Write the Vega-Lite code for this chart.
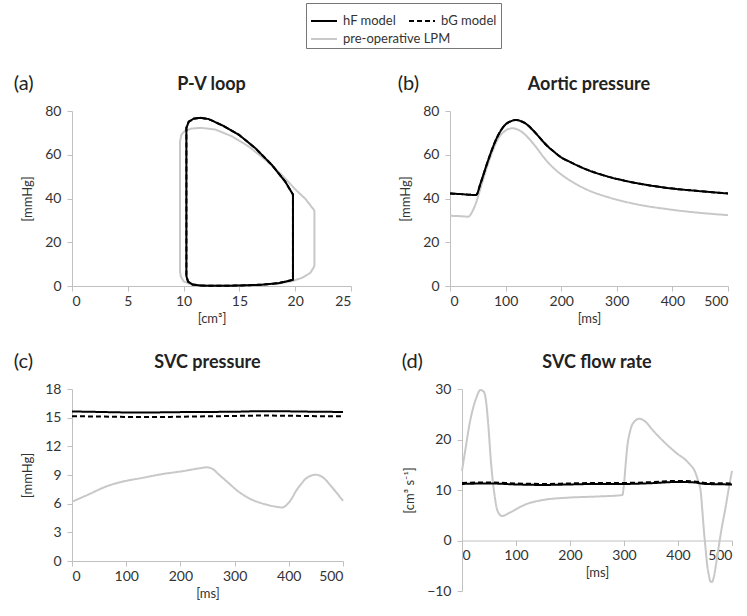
{
  "$schema": "https://vega.github.io/schema/vega-lite/v6.json",
  "padding": {"left": 13, "top": 2, "right": 5, "bottom": 2},
  "background": "white",
  "config": {
    "font": "Lato",
    "view": {"stroke": null},
    "axis": {"grid": false, "domainColor": "#c0c0c0", "tickColor": "#c0c0c0", "tickSize": 5, "labelColor": "#333", "labelFontSize": 14, "titleFontSize": 13, "titleFontWeight": "normal", "titleColor": "#333"},
    "axisX": {"labelPadding": 3, "titlePadding": 4},
    "axisY": {"labelPadding": 6, "titlePadding": 10},
    "title": {"fontSize": 18, "fontWeight": "bold", "color": "#222", "offset": 10},
    "line": {"strokeWidth": 2},
    "legend": {"orient": "none", "symbolType": "stroke", "symbolSize": 676, "symbolStrokeWidth": 2, "labelFontSize": 13, "labelColor": "#333", "labelOffset": 5}
  },
  "datasets": {
    "pv": [
      {"s": "pre-operative LPM", "i": 1, "v": 9.68, "p": 6.8},
      {"s": "pre-operative LPM", "i": 2, "v": 9.68, "p": 66.1},
      {"s": "pre-operative LPM", "i": 3, "v": 9.8, "p": 69.2},
      {"s": "pre-operative LPM", "i": 4, "v": 10.16, "p": 71.1},
      {"s": "pre-operative LPM", "i": 5, "v": 10.75, "p": 72.0},
      {"s": "pre-operative LPM", "i": 6, "v": 11.6, "p": 72.3},
      {"s": "pre-operative LPM", "i": 7, "v": 12.85, "p": 71.5},
      {"s": "pre-operative LPM", "i": 8, "v": 14.34, "p": 68.4},
      {"s": "pre-operative LPM", "i": 9, "v": 15.83, "p": 63.8},
      {"s": "pre-operative LPM", "i": 10, "v": 17.33, "p": 57.7},
      {"s": "pre-operative LPM", "i": 11, "v": 18.82, "p": 50.7},
      {"s": "pre-operative LPM", "i": 12, "v": 20.0, "p": 44.2},
      {"s": "pre-operative LPM", "i": 13, "v": 20.9, "p": 39.9},
      {"s": "pre-operative LPM", "i": 14, "v": 21.72, "p": 34.5},
      {"s": "pre-operative LPM", "i": 15, "v": 21.72, "p": 9.1},
      {"s": "pre-operative LPM", "i": 16, "v": 21.36, "p": 6.0},
      {"s": "pre-operative LPM", "i": 17, "v": 20.6, "p": 3.7},
      {"s": "pre-operative LPM", "i": 18, "v": 19.7, "p": 2.2},
      {"s": "pre-operative LPM", "i": 19, "v": 18.5, "p": 1.1},
      {"s": "pre-operative LPM", "i": 20, "v": 16.7, "p": 0.5},
      {"s": "pre-operative LPM", "i": 21, "v": 14.3, "p": 0.2},
      {"s": "pre-operative LPM", "i": 22, "v": 11.9, "p": 0.2},
      {"s": "pre-operative LPM", "i": 23, "v": 10.75, "p": 0.6},
      {"s": "pre-operative LPM", "i": 24, "v": 10.0, "p": 2.1},
      {"s": "pre-operative LPM", "i": 25, "v": 9.74, "p": 4.5},
      {"s": "pre-operative LPM", "i": 26, "v": 9.68, "p": 6.8},
      {"s": "hF model", "i": 1, "v": 11.5, "p": 0.2},
      {"s": "hF model", "i": 2, "v": 13.0, "p": 0.1},
      {"s": "hF model", "i": 3, "v": 15.0, "p": 0.2},
      {"s": "hF model", "i": 4, "v": 17.0, "p": 0.6},
      {"s": "hF model", "i": 5, "v": 18.5, "p": 1.3},
      {"s": "hF model", "i": 6, "v": 19.8, "p": 2.8},
      {"s": "hF model", "i": 7, "v": 19.8, "p": 41.8},
      {"s": "hF model", "i": 8, "v": 19.12, "p": 47.6},
      {"s": "hF model", "i": 9, "v": 17.92, "p": 55.3},
      {"s": "hF model", "i": 10, "v": 16.43, "p": 63.0},
      {"s": "hF model", "i": 11, "v": 14.94, "p": 69.2},
      {"s": "hF model", "i": 12, "v": 13.44, "p": 73.5},
      {"s": "hF model", "i": 13, "v": 12.25, "p": 76.3},
      {"s": "hF model", "i": 14, "v": 11.5, "p": 76.9},
      {"s": "hF model", "i": 15, "v": 10.9, "p": 76.5},
      {"s": "hF model", "i": 16, "v": 10.46, "p": 75.1},
      {"s": "hF model", "i": 17, "v": 10.25, "p": 72.3},
      {"s": "hF model", "i": 18, "v": 10.25, "p": 4.5},
      {"s": "hF model", "i": 19, "v": 10.4, "p": 2.0},
      {"s": "hF model", "i": 20, "v": 10.8, "p": 0.7},
      {"s": "hF model", "i": 21, "v": 11.5, "p": 0.2},
      {"s": "bG model", "i": 1, "v": 11.5, "p": 0.2},
      {"s": "bG model", "i": 2, "v": 13.0, "p": 0.1},
      {"s": "bG model", "i": 3, "v": 15.0, "p": 0.2},
      {"s": "bG model", "i": 4, "v": 17.0, "p": 0.6},
      {"s": "bG model", "i": 5, "v": 18.5, "p": 1.3},
      {"s": "bG model", "i": 6, "v": 19.8, "p": 2.8},
      {"s": "bG model", "i": 7, "v": 19.8, "p": 41.8},
      {"s": "bG model", "i": 8, "v": 19.12, "p": 47.6},
      {"s": "bG model", "i": 9, "v": 17.92, "p": 55.3},
      {"s": "bG model", "i": 10, "v": 16.43, "p": 63.0},
      {"s": "bG model", "i": 11, "v": 14.94, "p": 69.2},
      {"s": "bG model", "i": 12, "v": 13.44, "p": 73.5},
      {"s": "bG model", "i": 13, "v": 12.25, "p": 76.3},
      {"s": "bG model", "i": 14, "v": 11.5, "p": 76.9},
      {"s": "bG model", "i": 15, "v": 10.9, "p": 76.5},
      {"s": "bG model", "i": 16, "v": 10.46, "p": 75.1},
      {"s": "bG model", "i": 17, "v": 10.25, "p": 72.3},
      {"s": "bG model", "i": 18, "v": 10.25, "p": 4.5},
      {"s": "bG model", "i": 19, "v": 10.4, "p": 2.0},
      {"s": "bG model", "i": 20, "v": 10.8, "p": 0.7},
      {"s": "bG model", "i": 21, "v": 11.5, "p": 0.2}
    ],
    "aortic": [
      {"s": "pre-operative LPM", "t": 0, "y": 32.1}, {"s": "pre-operative LPM", "t": 20, "y": 31.9}, {"s": "pre-operative LPM", "t": 33, "y": 31.7}, {"s": "pre-operative LPM", "t": 40, "y": 34.0}, {"s": "pre-operative LPM", "t": 48, "y": 38.9}, {"s": "pre-operative LPM", "t": 57, "y": 46.5}, {"s": "pre-operative LPM", "t": 66, "y": 54.0}, {"s": "pre-operative LPM", "t": 75, "y": 60.5}, {"s": "pre-operative LPM", "t": 84, "y": 66.1}, {"s": "pre-operative LPM", "t": 99, "y": 70.9}, {"s": "pre-operative LPM", "t": 112, "y": 72.1}, {"s": "pre-operative LPM", "t": 122, "y": 71.5}, {"s": "pre-operative LPM", "t": 132, "y": 69.9}, {"s": "pre-operative LPM", "t": 144, "y": 66.8}, {"s": "pre-operative LPM", "t": 156, "y": 63.1}, {"s": "pre-operative LPM", "t": 168, "y": 59.0}, {"s": "pre-operative LPM", "t": 180, "y": 55.5}, {"s": "pre-operative LPM", "t": 195, "y": 52.0}, {"s": "pre-operative LPM", "t": 210, "y": 49.2}, {"s": "pre-operative LPM", "t": 245, "y": 44.2}, {"s": "pre-operative LPM", "t": 287, "y": 40.4}, {"s": "pre-operative LPM", "t": 335, "y": 37.4}, {"s": "pre-operative LPM", "t": 395, "y": 35.0}, {"s": "pre-operative LPM", "t": 455, "y": 33.3}, {"s": "pre-operative LPM", "t": 500, "y": 32.4},
      {"s": "bG model", "t": 0, "y": 42.3}, {"s": "bG model", "t": 20, "y": 42.0}, {"s": "bG model", "t": 47, "y": 41.6}, {"s": "bG model", "t": 55, "y": 47.0}, {"s": "bG model", "t": 66, "y": 55.5}, {"s": "bG model", "t": 75, "y": 62.0}, {"s": "bG model", "t": 84, "y": 67.6}, {"s": "bG model", "t": 99, "y": 73.6}, {"s": "bG model", "t": 110, "y": 75.4}, {"s": "bG model", "t": 119, "y": 75.9}, {"s": "bG model", "t": 128, "y": 75.3}, {"s": "bG model", "t": 138, "y": 73.9}, {"s": "bG model", "t": 150, "y": 71.0}, {"s": "bG model", "t": 162, "y": 67.6}, {"s": "bG model", "t": 175, "y": 64.0}, {"s": "bG model", "t": 186, "y": 61.6}, {"s": "bG model", "t": 200, "y": 58.8}, {"s": "bG model", "t": 216, "y": 56.7}, {"s": "bG model", "t": 245, "y": 53.3}, {"s": "bG model", "t": 275, "y": 50.7}, {"s": "bG model", "t": 311, "y": 48.3}, {"s": "bG model", "t": 347, "y": 46.5}, {"s": "bG model", "t": 395, "y": 44.7}, {"s": "bG model", "t": 443, "y": 43.5}, {"s": "bG model", "t": 500, "y": 42.3},
      {"s": "hF model", "t": 0, "y": 42.3}, {"s": "hF model", "t": 20, "y": 42.0}, {"s": "hF model", "t": 47, "y": 41.6}, {"s": "hF model", "t": 55, "y": 47.0}, {"s": "hF model", "t": 66, "y": 55.5}, {"s": "hF model", "t": 75, "y": 62.0}, {"s": "hF model", "t": 84, "y": 67.6}, {"s": "hF model", "t": 99, "y": 73.6}, {"s": "hF model", "t": 110, "y": 75.4}, {"s": "hF model", "t": 119, "y": 75.9}, {"s": "hF model", "t": 128, "y": 75.3}, {"s": "hF model", "t": 138, "y": 73.9}, {"s": "hF model", "t": 150, "y": 71.0}, {"s": "hF model", "t": 162, "y": 67.6}, {"s": "hF model", "t": 175, "y": 64.0}, {"s": "hF model", "t": 186, "y": 61.6}, {"s": "hF model", "t": 200, "y": 58.8}, {"s": "hF model", "t": 216, "y": 56.7}, {"s": "hF model", "t": 245, "y": 53.3}, {"s": "hF model", "t": 275, "y": 50.7}, {"s": "hF model", "t": 311, "y": 48.3}, {"s": "hF model", "t": 347, "y": 46.5}, {"s": "hF model", "t": 395, "y": 44.7}, {"s": "hF model", "t": 443, "y": 43.5}, {"s": "hF model", "t": 500, "y": 42.3}
    ],
    "svcp": [
      {"s": "pre-operative LPM", "t": 0, "y": 6.2}, {"s": "pre-operative LPM", "t": 32, "y": 7.0}, {"s": "pre-operative LPM", "t": 63, "y": 7.8}, {"s": "pre-operative LPM", "t": 93, "y": 8.3}, {"s": "pre-operative LPM", "t": 130, "y": 8.7}, {"s": "pre-operative LPM", "t": 167, "y": 9.1}, {"s": "pre-operative LPM", "t": 204, "y": 9.4}, {"s": "pre-operative LPM", "t": 235, "y": 9.7}, {"s": "pre-operative LPM", "t": 248, "y": 9.8}, {"s": "pre-operative LPM", "t": 259, "y": 9.65}, {"s": "pre-operative LPM", "t": 270, "y": 9.1}, {"s": "pre-operative LPM", "t": 278, "y": 8.7}, {"s": "pre-operative LPM", "t": 290, "y": 8.1}, {"s": "pre-operative LPM", "t": 302, "y": 7.5}, {"s": "pre-operative LPM", "t": 327, "y": 6.55}, {"s": "pre-operative LPM", "t": 357, "y": 5.93}, {"s": "pre-operative LPM", "t": 380, "y": 5.65}, {"s": "pre-operative LPM", "t": 388, "y": 5.6}, {"s": "pre-operative LPM", "t": 397, "y": 5.93}, {"s": "pre-operative LPM", "t": 405, "y": 6.5}, {"s": "pre-operative LPM", "t": 413, "y": 7.3}, {"s": "pre-operative LPM", "t": 422, "y": 8.0}, {"s": "pre-operative LPM", "t": 431, "y": 8.6}, {"s": "pre-operative LPM", "t": 442, "y": 8.95}, {"s": "pre-operative LPM", "t": 450, "y": 9.03}, {"s": "pre-operative LPM", "t": 460, "y": 8.85}, {"s": "pre-operative LPM", "t": 468, "y": 8.5}, {"s": "pre-operative LPM", "t": 477, "y": 7.9}, {"s": "pre-operative LPM", "t": 486, "y": 7.3}, {"s": "pre-operative LPM", "t": 493, "y": 6.8}, {"s": "pre-operative LPM", "t": 500, "y": 6.3},
      {"s": "hF model", "t": 0, "y": 15.65}, {"s": "hF model", "t": 50, "y": 15.6}, {"s": "hF model", "t": 100, "y": 15.55}, {"s": "hF model", "t": 150, "y": 15.55}, {"s": "hF model", "t": 200, "y": 15.58}, {"s": "hF model", "t": 250, "y": 15.6}, {"s": "hF model", "t": 300, "y": 15.62}, {"s": "hF model", "t": 350, "y": 15.68}, {"s": "hF model", "t": 400, "y": 15.66}, {"s": "hF model", "t": 450, "y": 15.62}, {"s": "hF model", "t": 500, "y": 15.6},
      {"s": "bG model", "t": 0, "y": 15.15}, {"s": "bG model", "t": 50, "y": 15.12}, {"s": "bG model", "t": 100, "y": 15.08}, {"s": "bG model", "t": 150, "y": 15.06}, {"s": "bG model", "t": 200, "y": 15.1}, {"s": "bG model", "t": 250, "y": 15.14}, {"s": "bG model", "t": 300, "y": 15.18}, {"s": "bG model", "t": 350, "y": 15.22}, {"s": "bG model", "t": 400, "y": 15.2}, {"s": "bG model", "t": 450, "y": 15.16}, {"s": "bG model", "t": 500, "y": 15.15}
    ],
    "svcq": [
      {"s": "pre-operative LPM", "t": 0, "y": 13.8}, {"s": "pre-operative LPM", "t": 7, "y": 18.5}, {"s": "pre-operative LPM", "t": 14, "y": 23.1}, {"s": "pre-operative LPM", "t": 20, "y": 26.0}, {"s": "pre-operative LPM", "t": 26, "y": 28.1}, {"s": "pre-operative LPM", "t": 34, "y": 29.8}, {"s": "pre-operative LPM", "t": 40, "y": 29.5}, {"s": "pre-operative LPM", "t": 44, "y": 28.0}, {"s": "pre-operative LPM", "t": 48, "y": 23.8}, {"s": "pre-operative LPM", "t": 54, "y": 15.1}, {"s": "pre-operative LPM", "t": 60, "y": 9.2}, {"s": "pre-operative LPM", "t": 66, "y": 5.8}, {"s": "pre-operative LPM", "t": 74, "y": 4.85}, {"s": "pre-operative LPM", "t": 88, "y": 5.5}, {"s": "pre-operative LPM", "t": 119, "y": 7.2}, {"s": "pre-operative LPM", "t": 149, "y": 8.0}, {"s": "pre-operative LPM", "t": 199, "y": 8.5}, {"s": "pre-operative LPM", "t": 248, "y": 8.7}, {"s": "pre-operative LPM", "t": 297, "y": 9.0}, {"s": "pre-operative LPM", "t": 300, "y": 11.2}, {"s": "pre-operative LPM", "t": 303, "y": 15.0}, {"s": "pre-operative LPM", "t": 306, "y": 18.5}, {"s": "pre-operative LPM", "t": 311, "y": 21.5}, {"s": "pre-operative LPM", "t": 316, "y": 23.1}, {"s": "pre-operative LPM", "t": 328, "y": 24.1}, {"s": "pre-operative LPM", "t": 340, "y": 23.5}, {"s": "pre-operative LPM", "t": 352, "y": 22.0}, {"s": "pre-operative LPM", "t": 365, "y": 20.5}, {"s": "pre-operative LPM", "t": 395, "y": 17.5}, {"s": "pre-operative LPM", "t": 420, "y": 15.3}, {"s": "pre-operative LPM", "t": 432, "y": 13.5}, {"s": "pre-operative LPM", "t": 438, "y": 11.5}, {"s": "pre-operative LPM", "t": 442, "y": 9.8}, {"s": "pre-operative LPM", "t": 445, "y": 6.0}, {"s": "pre-operative LPM", "t": 448, "y": 1.9}, {"s": "pre-operative LPM", "t": 451, "y": -1.5}, {"s": "pre-operative LPM", "t": 454, "y": -4.8}, {"s": "pre-operative LPM", "t": 457, "y": -6.8}, {"s": "pre-operative LPM", "t": 460, "y": -8.1}, {"s": "pre-operative LPM", "t": 463, "y": -8.2}, {"s": "pre-operative LPM", "t": 466, "y": -7.4}, {"s": "pre-operative LPM", "t": 470, "y": -5.0}, {"s": "pre-operative LPM", "t": 475, "y": -1.5}, {"s": "pre-operative LPM", "t": 481, "y": 2.5}, {"s": "pre-operative LPM", "t": 488, "y": 6.5}, {"s": "pre-operative LPM", "t": 494, "y": 10.3}, {"s": "pre-operative LPM", "t": 500, "y": 13.8},
      {"s": "hF model", "t": 0, "y": 11.2}, {"s": "hF model", "t": 50, "y": 11.3}, {"s": "hF model", "t": 100, "y": 11.1}, {"s": "hF model", "t": 150, "y": 11.0}, {"s": "hF model", "t": 200, "y": 11.1}, {"s": "hF model", "t": 250, "y": 11.2}, {"s": "hF model", "t": 300, "y": 11.2}, {"s": "hF model", "t": 350, "y": 11.35}, {"s": "hF model", "t": 400, "y": 11.6}, {"s": "hF model", "t": 430, "y": 11.5}, {"s": "hF model", "t": 450, "y": 11.2}, {"s": "hF model", "t": 500, "y": 11.1},
      {"s": "bG model", "t": 0, "y": 11.4}, {"s": "bG model", "t": 50, "y": 11.5}, {"s": "bG model", "t": 100, "y": 11.3}, {"s": "bG model", "t": 150, "y": 11.2}, {"s": "bG model", "t": 200, "y": 11.3}, {"s": "bG model", "t": 250, "y": 11.4}, {"s": "bG model", "t": 300, "y": 11.4}, {"s": "bG model", "t": 350, "y": 11.55}, {"s": "bG model", "t": 400, "y": 11.8}, {"s": "bG model", "t": 430, "y": 11.7}, {"s": "bG model", "t": 450, "y": 11.4}, {"s": "bG model", "t": 500, "y": 11.3}
    ]
  },
  "spacing": 27,
  "vconcat": [
    {
      "spacing": 45,
      "hconcat": [
        {
          "title": {"text": "(a)", "anchor": "start", "fontWeight": "normal", "fontSize": 20, "offset": -18, "dx": -8},
          "vconcat": [
            {
              "title": {"text": "P-V loop"},
              "width": 279, "height": 175,
              "data": {"name": "pv"},
              "mark": {"type": "line", "strokeWidth": 2},
              "encoding": {
                "x": {"field": "v", "type": "quantitative", "scale": {"domain": [0, 25]}, "axis": {"values": [0, 5, 10, 15, 20, 25], "title": "[cm³]"}},
                "y": {"field": "p", "type": "quantitative", "scale": {"domain": [0, 80]}, "axis": {"values": [0, 20, 40, 60, 80], "title": "[mmHg]"}},
                "color": {"field": "s", "type": "nominal", "scale": {"domain": ["hF model", "bG model", "pre-operative LPM"], "range": ["#000000", "#000000", "#c8c8c8"]}, "legend": {"title": null, "values": ["pre-operative LPM"], "legendX": 238, "legendY": -86, "padding": 0}},
                "strokeDash": {"field": "s", "type": "nominal", "scale": {"domain": ["bG model", "hF model", "pre-operative LPM"], "range": [[5, 3], [1, 0], [1, 0]]}, "legend": {"title": " ", "titleOrient": "bottom", "titleFontSize": 12, "titlePadding": 5, "values": ["hF model", "bG model"], "direction": "horizontal", "columnPadding": 8, "legendX": 234, "legendY": -108, "padding": 4, "strokeColor": "#777", "symbolStrokeColor": "#000000"}},
                "order": {"field": "i", "type": "quantitative"}
              }
            }
          ]
        },
        {
          "title": {"text": "(b)", "anchor": "start", "fontWeight": "normal", "fontSize": 20, "offset": -18, "dx": -2},
          "vconcat": [
            {
              "title": {"text": "Aortic pressure"},
              "width": 278, "height": 175,
              "data": {"name": "aortic"},
              "mark": {"type": "line", "strokeWidth": 2, "interpolate": "monotone"},
              "encoding": {
                "x": {"field": "t", "type": "quantitative", "scale": {"domain": [0, 500]}, "axis": {"values": [0, 100, 200, 300, 400, 500], "title": "[ms]"}},
                "y": {"field": "y", "type": "quantitative", "scale": {"domain": [0, 80]}, "axis": {"values": [0, 20, 40, 60, 80], "title": "[mmHg]"}},
                "color": {"field": "s", "type": "nominal", "scale": {"domain": ["hF model", "bG model", "pre-operative LPM"], "range": ["#000000", "#000000", "#c8c8c8"]}, "legend": {"title": null, "values": ["pre-operative LPM"], "legendX": 238, "legendY": -86, "padding": 0}},
                "strokeDash": {"field": "s", "type": "nominal", "scale": {"domain": ["bG model", "hF model", "pre-operative LPM"], "range": [[5, 3], [1, 0], [1, 0]]}, "legend": {"title": " ", "titleOrient": "bottom", "titleFontSize": 12, "titlePadding": 5, "values": ["hF model", "bG model"], "direction": "horizontal", "columnPadding": 8, "legendX": 234, "legendY": -108, "padding": 4, "strokeColor": "#777", "symbolStrokeColor": "#000000"}}
              }
            }
          ]
        }
      ]
    },
    {
      "spacing": 54,
      "hconcat": [
        {
          "title": {"text": "(c)", "anchor": "start", "fontWeight": "normal", "fontSize": 20, "offset": -18, "dx": -8},
          "vconcat": [
            {
              "title": {"text": "SVC pressure"},
              "width": 271, "height": 172,
              "data": {"name": "svcp"},
              "mark": {"type": "line", "strokeWidth": 2, "interpolate": "monotone"},
              "encoding": {
                "x": {"field": "t", "type": "quantitative", "scale": {"domain": [0, 500]}, "axis": {"values": [0, 100, 200, 300, 400, 500], "title": "[ms]"}},
                "y": {"field": "y", "type": "quantitative", "scale": {"domain": [0, 18]}, "axis": {"values": [0, 3, 6, 9, 12, 15, 18], "title": "[mmHg]"}},
                "color": {"field": "s", "type": "nominal", "scale": {"domain": ["hF model", "bG model", "pre-operative LPM"], "range": ["#000000", "#000000", "#c8c8c8"]}, "legend": {"title": null, "values": ["pre-operative LPM"], "legendX": 238, "legendY": -86, "padding": 0}},
                "strokeDash": {"field": "s", "type": "nominal", "scale": {"domain": ["bG model", "hF model", "pre-operative LPM"], "range": [[5, 3], [1, 0], [1, 0]]}, "legend": {"title": " ", "titleOrient": "bottom", "titleFontSize": 12, "titlePadding": 5, "values": ["hF model", "bG model"], "direction": "horizontal", "columnPadding": 8, "legendX": 234, "legendY": -108, "padding": 4, "strokeColor": "#777", "symbolStrokeColor": "#000000"}}
              }
            }
          ]
        },
        {
          "title": {"text": "(d)", "anchor": "start", "fontWeight": "normal", "fontSize": 20, "offset": -18, "dx": -2},
          "vconcat": [
            {
              "title": {"text": "SVC flow rate"},
              "width": 270, "height": 202,
              "data": {"name": "svcq"},
              "mark": {"type": "line", "strokeWidth": 2, "interpolate": "monotone"},
              "encoding": {
                "x": {"field": "t", "type": "quantitative", "scale": {"domain": [0, 500]}, "axis": {"values": [0, 100, 200, 300, 400, 500], "title": "[ms]", "offset": -50.5}},
                "y": {"field": "y", "type": "quantitative", "scale": {"domain": [-10, 30]}, "axis": {"values": [-10, 0, 10, 20, 30], "title": "[cm³ s⁻¹]"}},
                "color": {"field": "s", "type": "nominal", "scale": {"domain": ["hF model", "bG model", "pre-operative LPM"], "range": ["#000000", "#000000", "#c8c8c8"]}, "legend": {"title": null, "values": ["pre-operative LPM"], "legendX": 238, "legendY": -86, "padding": 0}},
                "strokeDash": {"field": "s", "type": "nominal", "scale": {"domain": ["bG model", "hF model", "pre-operative LPM"], "range": [[5, 3], [1, 0], [1, 0]]}, "legend": {"title": " ", "titleOrient": "bottom", "titleFontSize": 12, "titlePadding": 5, "values": ["hF model", "bG model"], "direction": "horizontal", "columnPadding": 8, "legendX": 234, "legendY": -108, "padding": 4, "strokeColor": "#777", "symbolStrokeColor": "#000000"}}
              }
            }
          ]
        }
      ]
    }
  ]
}
